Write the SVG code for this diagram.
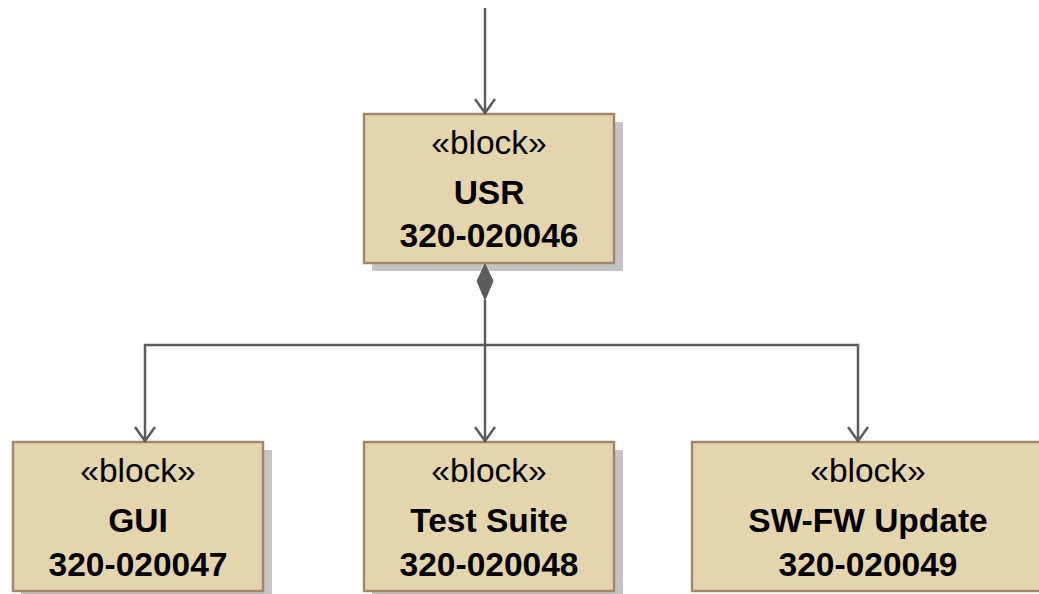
<svg xmlns="http://www.w3.org/2000/svg" width="1039" height="594" viewBox="0 0 1039 594">
  <style>
    .shadow { fill: #c4c4c4; }
    .box { fill: #e3d5ad; stroke: #a6866a; stroke-width: 2.5; }
    .stereo { font-family: "Liberation Sans", Arial, sans-serif; font-size: 33.5px; fill: #000; text-anchor: middle; }
    .name { font-family: "Liberation Sans", Arial, sans-serif; font-size: 33.5px; font-weight: bold; fill: #000; text-anchor: middle; }
    .conn { fill: none; stroke: #5c5c5c; stroke-width: 2.5; }
    .diamond { fill: #5c5c5c; stroke: #5c5c5c; stroke-width: 1; }
  </style>
  <defs>
    <!-- open V arrowhead, tip at the end of the line -->
    <marker id="open-arrow" viewBox="0 0 20 24" refX="18" refY="12" markerWidth="20" markerHeight="24" markerUnits="userSpaceOnUse" orient="auto">
      <path d="M4,2 L18,12 L4,22" fill="none" stroke="#5c5c5c" stroke-width="2.5"/>
    </marker>
  </defs>
  <rect width="1039" height="594" fill="#fff"/>

  <g id="node-usr">
    <rect class="shadow" x="372" y="122" width="251" height="149"/>
    <rect class="box" x="364" y="114" width="250" height="149"/>
    <text class="stereo" x="489" y="154">«block»</text>
    <text class="name" x="489" y="204">USR</text>
    <text class="name" x="489" y="247">320-020046</text>
  </g>

  <g id="node-gui">
    <rect class="shadow" x="21" y="450" width="251" height="149"/>
    <rect class="box" x="13" y="442" width="250" height="149"/>
    <text class="stereo" x="138" y="482">«block»</text>
    <text class="name" x="138" y="532">GUI</text>
    <text class="name" x="138" y="576">320-020047</text>
  </g>

  <g id="node-test-suite">
    <rect class="shadow" x="372" y="450" width="251" height="149"/>
    <rect class="box" x="364" y="442" width="250" height="149"/>
    <text class="stereo" x="489" y="482">«block»</text>
    <text class="name" x="489" y="532">Test Suite</text>
    <text class="name" x="489" y="576">320-020048</text>
  </g>

  <g id="node-sw-fw-update">
    <rect class="box" x="692" y="442" width="360" height="149"/>
    <text class="stereo" x="868" y="482">«block»</text>
    <text class="name" x="868" y="532">SW-FW Update</text>
    <text class="name" x="868" y="576">320-020049</text>
  </g>

  <g id="connectors">
    <!-- incoming association into USR -->
    <line class="conn" x1="485" y1="8" x2="485" y2="113" marker-end="url(#open-arrow)"/>
    <!-- composition diamond at USR -->
    <path class="diamond" d="M485,264 L493,281 L485,300 L477,281 Z"/>
    <line class="conn" x1="485" y1="300" x2="485" y2="441" marker-end="url(#open-arrow)"/>
    <polyline class="conn" points="485,345 145,345 145,441" marker-end="url(#open-arrow)"/>
    <polyline class="conn" points="485,345 858,345 858,441" marker-end="url(#open-arrow)"/>
  </g>
</svg>
